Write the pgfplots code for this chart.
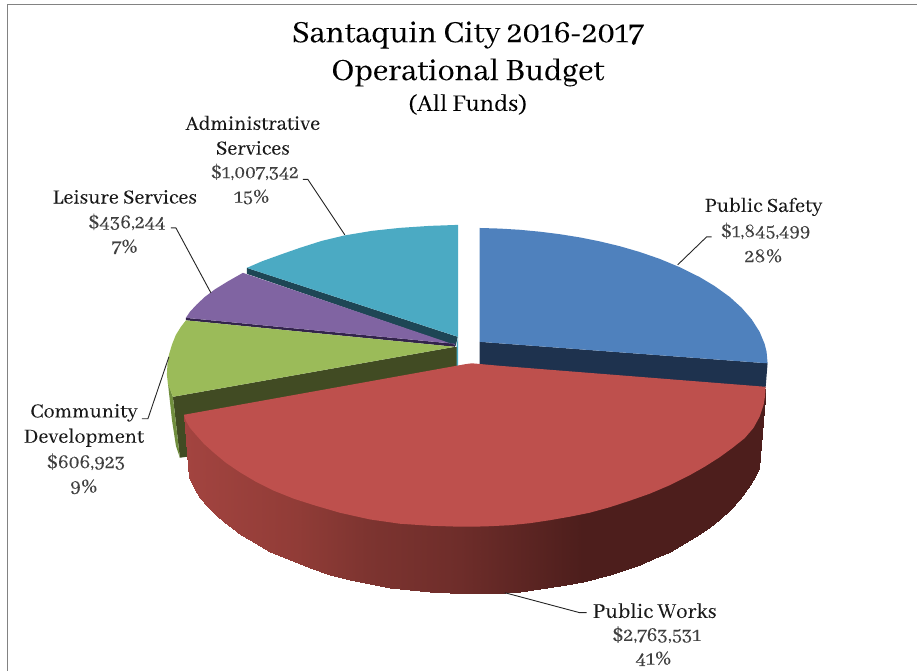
\documentclass[border=0pt]{standalone}
\usepackage{fontspec}
\setmainfont{Abhaya Libre}[FakeBold=0.12]
\usepackage{pgfplots}
\pgfplotsset{compat=1.18}
\definecolor{cBlue}{RGB}{79,129,189}
\definecolor{cBlueD}{RGB}{30,50,78}
\definecolor{cRed}{RGB}{190,80,77}
\definecolor{cGreen}{RGB}{155,187,89}
\definecolor{cOlive}{RGB}{65,75,35}
\definecolor{cOliveL}{RGB}{112,142,62}
\definecolor{cPurple}{RGB}{128,100,162}
\definecolor{cPurpleD}{RGB}{50,35,75}
\definecolor{cTeal}{RGB}{75,170,195}
\definecolor{cTealD}{RGB}{30,70,85}
\newcommand{\lab}[4]{\node[font=\fontsize{#3}{#3}\selectfont,text=#4,inner sep=0pt] at (axis cs:#1) {#2};}
\begin{document}
\begin{tikzpicture}
\begin{axis}[width=917pt, height=671pt, scale only axis, hide axis,
    xmin=0, xmax=917, ymin=0, ymax=671, y dir=reverse, clip=false,
    colormap={redside}{rgb255(0cm)=(163,68,64); rgb255(11cm)=(145,60,55);
      rgb255(18cm)=(125,52,48); rgb255(27cm)=(110,45,42);
      rgb255(39cm)=(77,30,28); rgb255(57cm)=(77,30,28)},
    point meta min=184, point meta max=766]
% keep the whole page in the picture
\path (axis cs:0,0) rectangle (axis cs:917,671);
% frame
\addplot[draw={rgb,255:red,130;green,130;blue,130}, line width=1pt] coordinates {(7.5,671) (7.5,4.7) (917,4.7)};
% sides under the tops
\addplot[fill=cBlueD, draw=none] coordinates {(480,342) (768,363.5) (766,388) (480,366)};
\addplot[fill=cOlive, draw=none] coordinates {(173,397) (455,347) (458,347) (458,367) (190,420) (187,457) (180,458)};
\addplot[fill=cOliveL, draw=none] coordinates {(168,383) (173,397) (180,458) (176,446) (172,420)};
\addplot[fill=cTealD, draw=none] coordinates {(247,268) (458,337) (456,346) (247,274)};
\addplot[fill=cPurpleD, draw=none] coordinates {(186,318) (455,344) (455,347) (186,320.5)};
\addplot[fill=cTeal, draw=none] coordinates {(456.8,346) (458.3,337) (458.3,366) (456.8,366)};
% red side, shaded along x
\addplot[surf, shader=interp, mesh/cols=2, mesh/ordering=x varies, point meta=x] table {
x y
184 415
189 478
194 432
194 488
200 439
200 498
207 443
207 506.6
216 454
216 515
224 457
224 522
232 467
232 528
241 469
241 535
250 477
250 540.5
260 480
260 546
270 487
270 552
290 495
290 560.6
310 501
310 568
330 506
330 575
350 510
350 580
370 514
370 584.5
390 518
390 588
410 520
410 590.6
430 522
430 592.5
450 523
450 593.6
470 523
470 594
490 522
490 593.6
505 521
505 593
520 520.5
520 592
540 518.5
540 589
560 515
560 586
583 510
583 582
610 503
610 575
625 499
625 570
640 493
640 565
655 488
655 558.5
670 482
670 552
685 474
685 543.5
700 466
700 534
710 460
710 527
720 454
720 519
730 446
730 510
740 439
740 499
745 434
745 492.6
750 430
750 485
757 418
757 473
766 387
759 468
};
% tops
\addplot[fill=cRed, draw=none] coordinates {(184,415) (186,421) (190,428) (196,435) (204,444) (214,453) (226,463) (240,472.5) (256,482) (274,491) (294,499) (316,506) (340,513) (370,519.7) (400,524) (430,526) (460,527) (473,527) (490,526.5) (510,525.5) (530,523.5) (550,520.5) (570,517) (590,513) (610,507.5) (630,501) (650,494) (670,485.5) (690,475.5) (705,467) (720,457.5) (733,448) (745,438.5) (754,428) (760,417) (764,405) (765.5,396) (766,387) (500,366) (478,364) (472,363.5) (466,364.3)};
\addplot[fill=cBlue, draw=none] coordinates {(480,342) (480,228.1) (500,228.7) (520,229.9) (540,231.8) (560,234.3) (580,237.5) (600,241.5) (620,246.3) (640,252.1) (660,259) (680,267.3) (700,277.2) (715,286.2) (730,297) (742,307.9) (752,319.4) (760,332) (765,344) (767,352) (768,363.5)};
\addplot[fill=cGreen, draw=none] coordinates {(186,320.5) (181,327) (176,335) (172,345) (169,355) (167.5,365) (167,375) (168,384) (173,397) (455,347)};
\addplot[fill=cPurple, draw=none] coordinates {(186,318) (190,312) (197,304.5) (205,297) (215,289.5) (228,281.5) (243,273) (455,345) (455,344)};
\addplot[fill=cTeal, draw=none] coordinates {(247,268) (262,261.5) (280,255) (300,248) (322,241) (345,235.5) (372,231) (400,228) (430,226) (458.3,225) (458.3,337)};
% leader lines
\addplot[black!85, line width=0.9pt] coordinates {(303,179.5) (308,179.5) (345,235)};
\addplot[black!85, line width=0.9pt] coordinates {(171,228) (176,228) (211,293)};
\addplot[black!85, line width=0.9pt] coordinates {(142,419) (148,419) (169,357)};
\addplot[black!85, line width=0.9pt] coordinates {(712,237) (707,237) (678,265)};
\addplot[black!85, line width=0.9pt] coordinates {(505,593) (580,613) (587,613)};
% title
\lab{468,35}{Santaquin City 2016-2017}{34}{black}
\lab{468,72.5}{Operational Budget}{34}{black}
\lab{468,104.5}{(All Funds)}{26}{black}
% labels
\lab{253,123}{Administrative}{22}{black!90}
\lab{253,148}{Services}{22}{black!90}
\lab{255,172}{\$1,007,342}{21}{black!75}
\lab{252,197}{15\%}{21.5}{black!75}
\lab{125,197}{Leisure Services}{22}{black!90}
\lab{127,222}{\$436,244}{21.5}{black!75}
\lab{125,247}{7\%}{21.5}{black!75}
\lab{84,413}{Community}{22}{black!90}
\lab{84,438}{Development}{22}{black!90}
\lab{86,462}{\$606,923}{21.5}{black!75}
\lab{84,487}{9\%}{21.5}{black!75}
\lab{764,207}{Public Safety}{22}{black!90}
\lab{766,231}{\$1,845,499}{21}{black!75}
\lab{764,256}{28\%}{21.5}{black!75}
\lab{655,611}{Public Works}{23}{black!90}
\lab{657,635}{\$2,763,531}{21.5}{black!75}
\lab{654,659}{41\%}{21.5}{black!75}
\end{axis}
\end{tikzpicture}
\end{document}
